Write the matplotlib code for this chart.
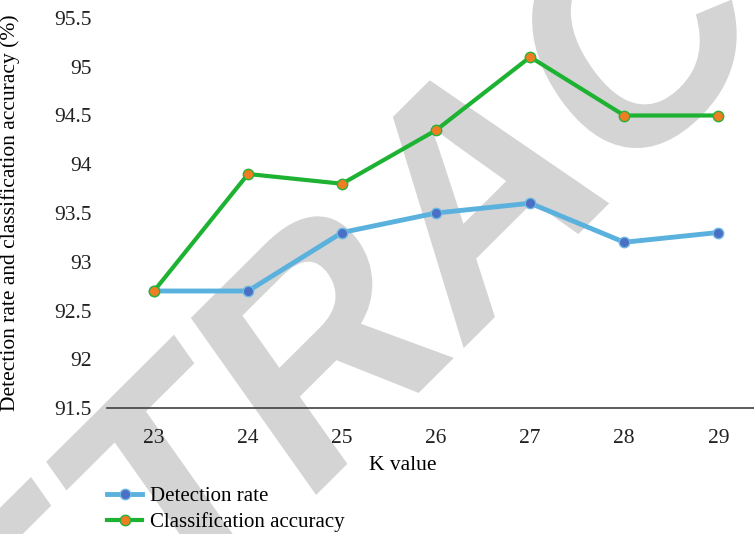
import matplotlib
matplotlib.use("Agg")
import matplotlib.pyplot as plt
from matplotlib.font_manager import FontProperties
from matplotlib.patches import PathPatch
from matplotlib.textpath import TextPath
from matplotlib.transforms import Affine2D, IdentityTransform

plt.rcParams['font.family'] = ['Liberation Serif', 'DejaVu Serif']

k_values = [23, 24, 25, 26, 27, 28, 29]
detection_rate = [92.7, 92.7, 93.3, 93.5, 93.6, 93.2, 93.3]
classification_accuracy = [92.7, 93.9, 93.8, 94.35, 95.1, 94.5, 94.5]
y_ticks = [91.5, 92, 92.5, 93, 93.5, 94, 94.5, 95, 95.5]

fig = plt.figure(figsize=(7.54, 5.34), dpi=100)
ax = fig.add_axes([107 / 754, 1 - 408 / 534, 1 - 107 / 754, (408 - 18) / 534])
ax.patch.set_alpha(0)

# grey stamp behind the plot, rotated and stretched a bit vertically
stamp_font = FontProperties(family='Liberation Sans', weight='bold')
stamp = TextPath((0, 0), 'RETRACTED', size=1, prop=stamp_font)
a_left = TextPath((0, 0), 'RETR', size=1, prop=stamp_font).get_extents().x1
a_right = TextPath((0, 0), 'RETRA', size=1, prop=stamp_font).get_extents().x1
stamp_tf = (Affine2D()
            .translate(-(a_left + a_right) / 2, -0.36)
            .scale(292)
            .rotate_deg(40)
            .scale(0.97, 1.15)
            .translate(466, 534 - 188))
fig.add_artist(PathPatch(stamp_tf.transform_path(stamp), facecolor='#d4d4d4',
                         edgecolor='none', transform=IdentityTransform(), zorder=-5))

ax.plot(k_values, detection_rate, color='#5bb1de', lw=3.5, marker='o',
        ms=7.5, mfc='#4a6fc4', mec='#6cb9e2', mew=1, label='Detection rate')
ax.plot(k_values, classification_accuracy, color='#1db232', lw=3, marker='o',
        ms=7.5, mfc='#ef7d22', mec='#28b23a', mew=1, label='Classification accuracy')

ax.set_xlim(22.5, 29.38)
ax.set_ylim(91.5, 95.5)
ax.set_xticks(k_values)
ax.set_yticks(y_ticks)
ax.set_yticklabels([f'{v:g}' for v in y_ticks])
for s in ['top', 'right', 'left']:
    ax.spines[s].set_visible(False)
ax.spines['bottom'].set_color('#404040')
ax.spines['bottom'].set_linewidth(1.2)
ax.tick_params(length=0, labelsize=15.5, colors='#222222')
ax.tick_params(axis='x', pad=15)
ax.tick_params(axis='y', pad=11)

ax.set_xlabel('K value', fontsize=15.5)
ax.xaxis.set_label_coords((403 - 107) / 647, -0.122)
ax.set_ylabel('Detection rate and classification accuracy (%)', fontsize=15.5)
ax.yaxis.set_label_coords(-0.135, 0.5)

fig.legend(loc='upper left', bbox_to_anchor=(99 / 754, 1 - 478 / 534),
           frameon=False, fontsize=15, handlelength=1.65, handletextpad=0.42,
           labelspacing=0.3, borderaxespad=0)

fig.savefig('out.png', dpi=100)
